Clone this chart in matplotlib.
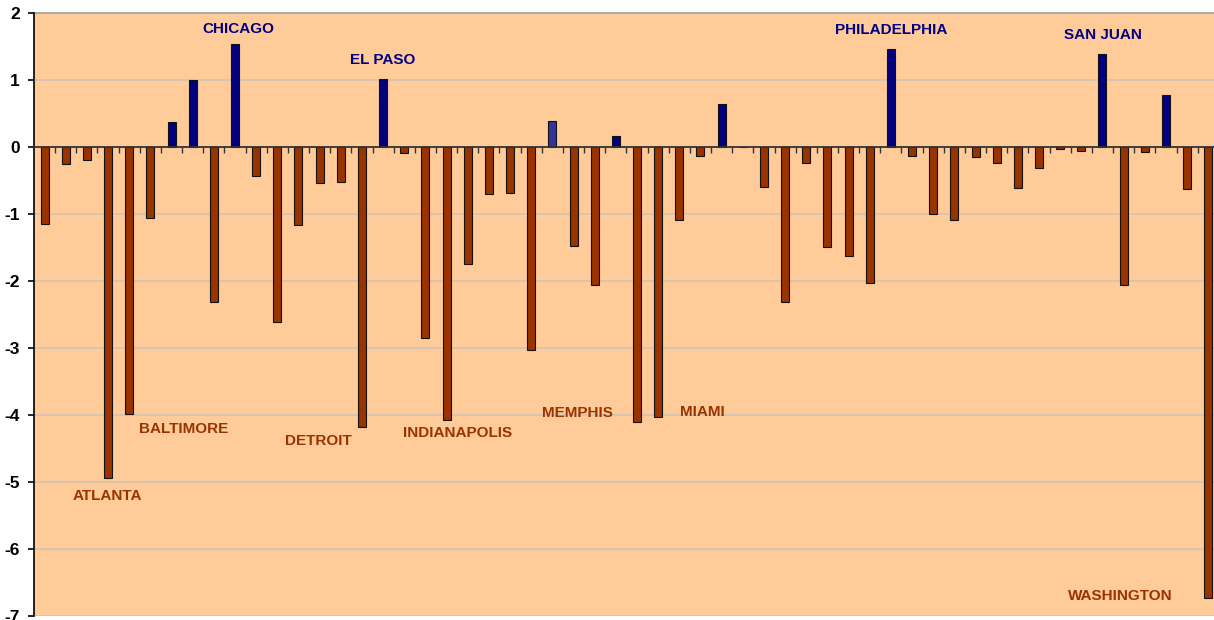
import matplotlib
matplotlib.use("Agg")
import matplotlib.pyplot as plt
import numpy as np

# Values of the 56 bars, left to right
values = [-1.16, -0.26, -0.20, -4.95, -3.99, -1.07, 0.37, 1.00, -2.32, 1.53,
          -0.44, -2.62, -1.17, -0.54, -0.52, -4.18, 1.01, -0.10, -2.85, -4.08,
          -1.75, -0.71, -0.69, -3.03, 0.39, -1.48, -2.06, 0.155, -4.11, -4.04,
          -1.09, -0.14, 0.64, 0.0, -0.60, -2.32, -0.24, -1.50, -1.63, -2.04,
          1.46, -0.14, -1.00, -1.10, -0.16, -0.24, -0.62, -0.32, -0.03, -0.065,
          1.38, -2.06, -0.08, 0.77, -0.63, -6.73]
highlight_index = 24  # the lighter blue bar

# City labels: name, x position (category units), y position (value units)
label_names = ["CHICAGO", "EL PASO", "PHILADELPHIA", "SAN JUAN",
               "ATLANTA", "BALTIMORE", "DETROIT", "INDIANAPOLIS",
               "MEMPHIS", "MIAMI", "WASHINGTON"]
label_x = [9.16, 16.0, 40.03, 50.03, 2.99, 6.57, 12.93, 19.54, 25.19, 31.1, 50.86]
label_y = [1.75, 1.29, 1.74, 1.67, -5.21, -4.21, -4.39, -4.27, -3.97, -3.955, -6.70]

yticks = [2, 1, 0, -1, -2, -3, -4, -5, -6, -7]

pos_color = "#000080"
neg_color = "#993300"
hl_color = "#333399"
bg_color = "#FFCC99"

fig = plt.figure(figsize=(12.14, 6.20), dpi=100)
ax = fig.add_axes([34 / 1214, 1 - 615.7 / 620, 1184 / 1214, (615.7 - 12.7) / 620])
ax.set_facecolor(bg_color)

n = len(values)
x = np.arange(n)
colors = []
for i, v in enumerate(values):
    if i == highlight_index:
        colors.append(hl_color)
    elif v >= 0:
        colors.append(pos_color)
    else:
        colors.append(neg_color)

ax.bar(x, values, width=0.38, color=colors, edgecolor="#111111", linewidth=0.8, zorder=3)

ax.set_xlim(-0.5, n - 0.54)
ax.set_ylim(-7, 2)

# gridlines
for t in yticks:
    if t != 0:
        ax.axhline(t, color="#cfc4b8", linewidth=1.2, zorder=1)

# spines
for s in ["top", "right"]:
    ax.spines[s].set_visible(False)
ax.spines["left"].set_color("black")
ax.spines["left"].set_linewidth(1.2)
ax.spines["bottom"].set_position(("data", 0))
ax.spines["bottom"].set_color("#333333")
ax.spines["bottom"].set_linewidth(1.3)
ax.spines["bottom"].set_zorder(4)
ax.axhline(2, color="#a0a0a0", linewidth=1.2, zorder=1, clip_on=False)

# x ticks at category boundaries, no labels
ax.set_xticks(np.arange(n - 1) + 0.5)
ax.set_xticklabels([])
ax.tick_params(axis="x", direction="out", length=4, width=1, color="#333333")

ax.set_yticks(yticks)
ax.set_yticklabels([str(t) for t in yticks], fontsize=12.5, fontweight="bold",
                   family="Liberation Sans")
ax.tick_params(axis="y", direction="out", length=4, width=1.2, pad=6)

for name, lx, ly in zip(label_names, label_x, label_y):
    c = pos_color if ly > 0 else neg_color
    ax.text(lx, ly, name, color=c, fontsize=11, fontweight="bold",
            family="Liberation Sans", ha="center", va="center", zorder=5)

fig.savefig("out.png", dpi=100, facecolor="white")
